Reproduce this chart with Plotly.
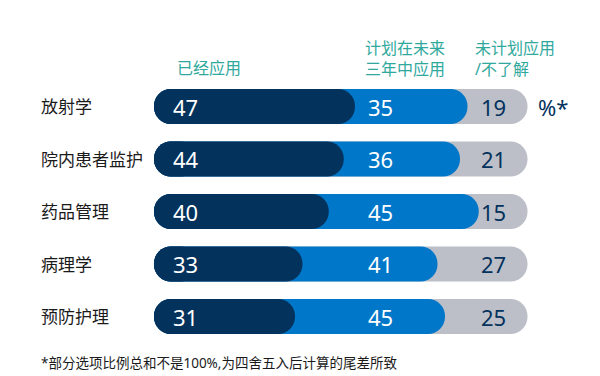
import plotly.graph_objects as go

categories = ["放射学", "院内患者监护", "药品管理", "病理学", "预防护理"]
already = [47, 44, 40, 33, 31]
planned = [35, 36, 45, 41, 45]
not_planned = [19, 21, 15, 27, 25]
headers = ["已经应用", "计划在未来<br>三年中应用", "未计划应用<br>/不了解"]
unit_label = "%*"
footnote = "*部分选项比例总和不是100%,为四舍五入后计算的尾差所致"

NAVY = "#03325c"
BLUE = "#0077c8"
GREY = "#bdbfc8"
TEAL = "#2fa89d"
FONT = "Noto Sans, Noto Sans CJK SC, sans-serif"

# page body has an 8px margin; work in reference-pixel coordinates
OFF = 8
W, H = 600 - OFF, 376 - OFF


def px(x):
    return (x - OFF) / W


def py(y):
    return 1 - (y - OFF) / H


BASE = -1.6      # left edge of tracks
TRACK_END = 98   # grey track end
CAP = 5.0        # overlap of navy rounded cap
R = 17

cum = [a + p for a, p in zip(already, planned)]

fig = go.Figure()
fig.add_trace(go.Bar(
    y=categories, x=[TRACK_END - BASE] * len(categories), base=BASE,
    orientation="h", marker=dict(color=GREY, cornerradius=R, line_width=0),
    width=0.667, opacity=1, hoverinfo="skip"))
fig.add_trace(go.Bar(
    y=categories, x=[c - BASE for c in cum], base=BASE,
    orientation="h", marker=dict(color=BLUE, cornerradius=R, line_width=0),
    width=0.667, opacity=1, hoverinfo="skip"))
fig.add_trace(go.Bar(
    y=categories, x=[a + CAP - BASE for a in already], base=BASE,
    orientation="h", marker=dict(color=NAVY, cornerradius=R, line_width=0),
    width=0.667, opacity=1, hoverinfo="skip"))
# left rounded caps (drawn leftwards so the rounded end is on the left)
fig.add_trace(go.Bar(
    y=categories, x=[BASE - 10] * len(categories), base=10,
    orientation="h", marker=dict(color=NAVY, cornerradius=R, line_width=0),
    width=0.667, opacity=1, hoverinfo="skip"))

ann = []
for i, cat in enumerate(categories):
    ann.append(dict(x=px(39), xref="paper", y=cat, yref="y", text=cat,
                    xanchor="left", yanchor="middle", showarrow=False,
                    font=dict(size=17, color="#1a1a1a", family=FONT)))
    ann.append(dict(x=2.9, xref="x", y=cat, yref="y", text=str(already[i]),
                    xanchor="left", yanchor="middle", showarrow=False,
                    font=dict(size=22, color="white", family=FONT)))
    ann.append(dict(x=58.7, xref="x", y=cat, yref="y", text=str(planned[i]),
                    xanchor="center", yanchor="middle", showarrow=False,
                    font=dict(size=22, color="white", family=FONT)))
    ann.append(dict(x=92.8, xref="x", y=cat, yref="y", text=str(not_planned[i]),
                    xanchor="right", yanchor="middle", showarrow=False,
                    font=dict(size=22, color=NAVY, family=FONT)))

ann.append(dict(x=px(553), xref="paper", y=categories[0], yref="y", text=unit_label,
                xanchor="center", yanchor="middle", showarrow=False,
                font=dict(size=22, color=NAVY, family=FONT)))

hdr_x = [175, 363, 473]
hdr_y = [68, 58, 58]
for t, hx, hy in zip(headers, hdr_x, hdr_y):
    ann.append(dict(x=px(hx), xref="paper", y=py(hy), yref="paper", text=t,
                    xanchor="left", yanchor="middle", align="left", showarrow=False,
                    font=dict(size=16, color=TEAL, family=FONT)))

ann.append(dict(x=px(39), xref="paper", y=py(363), yref="paper", text=footnote,
                xanchor="left", yanchor="middle", showarrow=False,
                font=dict(size=13.5, color="#1a1a1a", family=FONT)))

O = 160.0 - OFF   # pixel of x=0 within the figure
S = 3.75          # pixels per percentage point
Y0 = 106.5 - OFF  # pixel centre of first row within the figure
DY = 52.5         # row spacing in pixels
fig.update_layout(
    width=W, height=H,
    margin=dict(l=0, r=0, t=0, b=0),
    paper_bgcolor="white", plot_bgcolor="white",
    barmode="overlay", showlegend=False,
    xaxis=dict(range=[-O / S, (W - O) / S], visible=False, fixedrange=True),
    yaxis=dict(range=[(H - Y0) / DY, -Y0 / DY], visible=False,
               type="category", categoryorder="array", categoryarray=categories,
               fixedrange=True),
    annotations=ann,
)

fig.write_html("out.html")
